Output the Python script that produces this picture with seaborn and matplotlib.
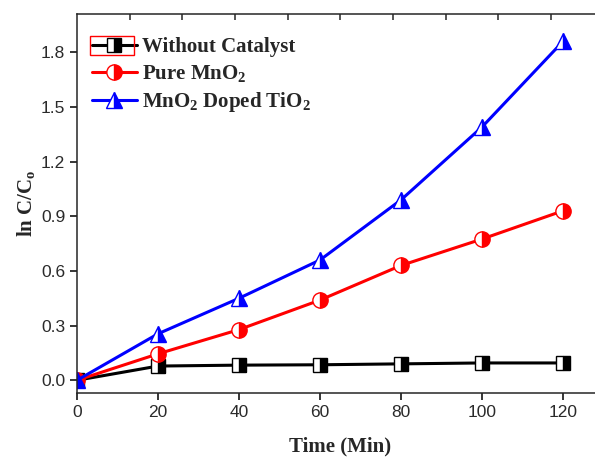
import matplotlib
matplotlib.use("Agg")
import matplotlib.pyplot as plt
import matplotlib.patches as mpatches
import seaborn as sns

# dữ liệu
time_min = [0, 20, 40, 60, 80, 100, 120]
without_catalyst = [0.0, 0.078, 0.083, 0.085, 0.09, 0.095, 0.095]
pure_mno2 = [0.0, 0.145, 0.278, 0.44, 0.63, 0.775, 0.93]
mno2_doped_tio2 = [0.0, 0.255, 0.45, 0.66, 0.99, 1.39, 1.86]

series_labels = ["Without Catalyst", r"Pure MnO$_\mathregular{2}$",
                 r"MnO$_\mathregular{2}$ Doped TiO$_\mathregular{2}$"]
x_ticks = [0, 20, 40, 60, 80, 100, 120]
y_ticks = [0.0, 0.3, 0.6, 0.9, 1.2, 1.5, 1.8]
top_ticks = [13, 26, 39, 52, 65, 78, 91, 104, 117]

sns.set_style("ticks")
plt.rcParams["font.family"] = ["Liberation Sans", "DejaVu Sans"]
plt.rcParams["mathtext.default"] = "regular"

fig = plt.figure(figsize=(5.95, 4.57), dpi=100)
ax = fig.add_axes([0.1294, 0.14, 0.885, 0.8294])

styles = [("black", "s", 10), ("red", "o", 11), ("blue", "^", 11)]
for vals, lab, (col, mk, ms) in zip([without_catalyst, pure_mno2, mno2_doped_tio2],
                                    series_labels, styles):
    sns.lineplot(x=time_min, y=vals, ax=ax, color=col, lw=2.2, marker=mk, ms=ms,
                 fillstyle="right", markerfacecoloralt="white",
                 markeredgecolor=col, markeredgewidth=1.0, label=lab)

ax.set_xlim(0, 130)
ax.set_ylim(-0.07, 2.01)
ax.set_xticks(x_ticks)
ax.set_yticks(y_ticks)
ax.set_yticklabels([f"{v:.1f}" for v in y_ticks])
ax.tick_params(axis="both", direction="out", length=5, width=1.1,
               labelsize=12.5, labelcolor="#2a2a2a", color="black")

# trục trên với vạch chia hướng vào trong
sec = ax.secondary_xaxis("top")
sec.set_xticks(top_ticks)
sec.set_xticklabels([])
sec.tick_params(direction="in", length=4, width=1.1)
sec.spines["top"].set_linewidth(1.1)

ax.spines["right"].set_visible(False)
ax.spines["top"].set_visible(False)
for s in ["left", "bottom"]:
    ax.spines[s].set_linewidth(1.1)

serif = ["Liberation Serif", "DejaVu Serif"]
ax.set_xlabel("Time (Min)", fontsize=15, fontweight="bold", family=serif, labelpad=12)
ax.set_ylabel(r"ln C/C$_\mathregular{o}$", fontsize=15, fontweight="bold",
              family=serif, labelpad=3)

leg = ax.legend(loc="upper left", bbox_to_anchor=(0.0, 0.978), frameon=False,
                handlelength=2.2, handletextpad=0.2, labelspacing=0.3,
                borderaxespad=0.3, prop={"family": serif, "weight": "bold", "size": 15})

# khung đỏ quanh mục đầu tiên (như trong ảnh gốc)
fig.patches.append(mpatches.Rectangle((90 / 595, 1 - 55 / 457), 44 / 595, 19 / 457,
                                      transform=fig.transFigure, fill=False,
                                      edgecolor="red", lw=1.0))

fig.savefig("out.png", dpi=100)
